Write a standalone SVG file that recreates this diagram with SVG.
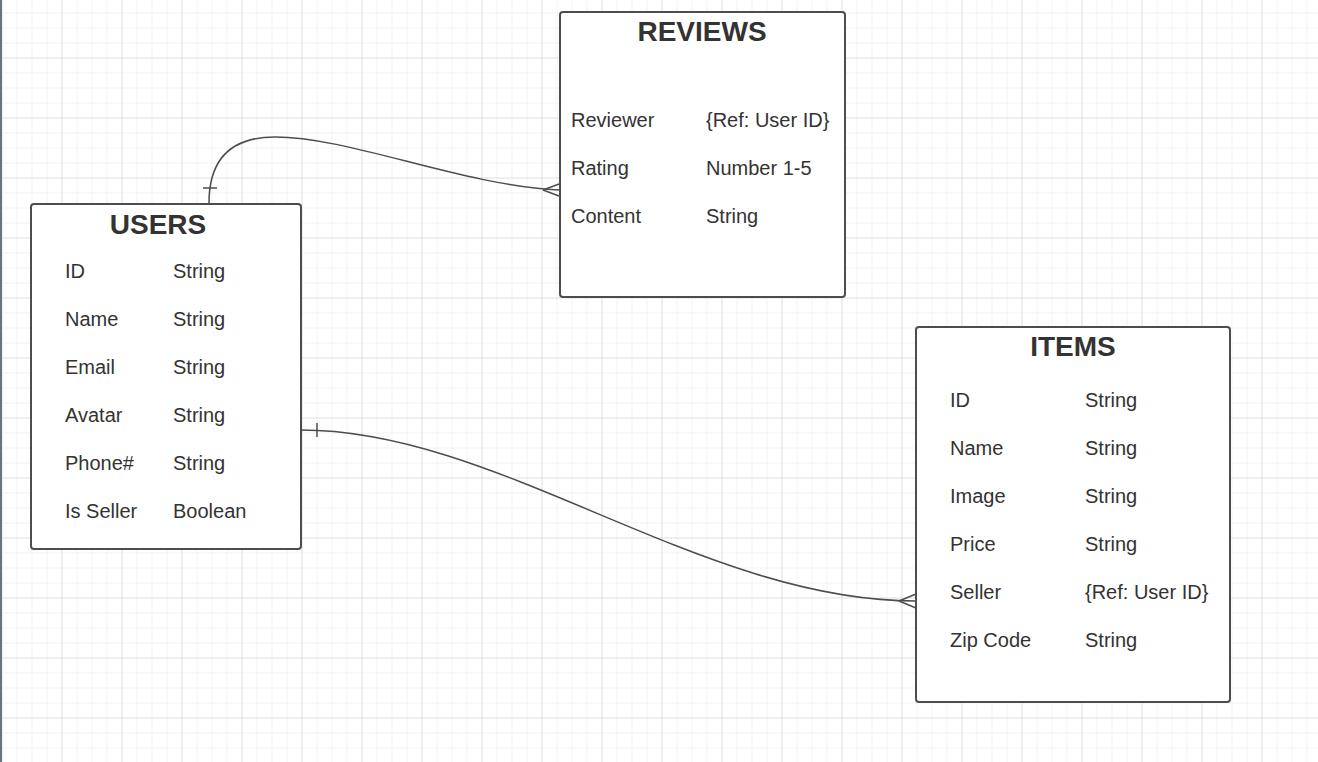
<svg xmlns="http://www.w3.org/2000/svg" width="1318" height="762" viewBox="0 0 1318 762">
<style>
.box{fill:#fff;stroke:#4d4d4d;stroke-width:2}
.title{font-family:"Liberation Sans",Arial,sans-serif;font-weight:bold;font-size:28px;fill:#333;text-anchor:middle}
.t{font-family:"Liberation Sans",Arial,sans-serif;font-size:20px;fill:#333}
.c{fill:none;stroke:#4d4d4d;stroke-width:1.5}
</style>
<defs>
<pattern id="minor" patternUnits="userSpaceOnUse" x="1.5" y="-2.5" width="15" height="15">
<path d="M0 0H15M0 0V15" fill="none" stroke="#e6e6e6" stroke-width="1"/>
</pattern>
<pattern id="major" patternUnits="userSpaceOnUse" x="1.5" y="-2.5" width="60" height="60">
<path d="M0 0H60M0 0V60" fill="none" stroke="#d2d2d2" stroke-width="1"/>
</pattern>
</defs>
<rect width="1318" height="762" fill="#fff"/>
<rect width="1318" height="762" fill="url(#minor)"/>
<rect width="1318" height="762" fill="url(#major)"/>
<rect x="0" y="0" width="2" height="762" fill="#6b7280"/>

<g id="connectors">
<path class="c" d="M209 203 C209 160 230 137 275 137 C350 137 460 185 559 190"/>
<path class="c" d="M203 188H217"/>
<path class="c" d="M543 190L559 184M543 190L559 196"/>
<path class="c" d="M301 430 C500 430 700 601 916 601"/>
<path class="c" d="M317 423V437"/>
<path class="c" d="M899 601L916 594M899 601L916 608"/>
</g>

<g id="reviews">
<rect class="box" x="560" y="12" width="285" height="285" rx="3"/>
<text class="title" x="702" y="41">REVIEWS</text>
<text class="t" x="571" y="127">Reviewer</text><text class="t" x="706" y="127">{Ref: User ID}</text>
<text class="t" x="571" y="175">Rating</text><text class="t" x="706" y="175">Number 1-5</text>
<text class="t" x="571" y="223">Content</text><text class="t" x="706" y="223">String</text>
</g>

<g id="users">
<rect class="box" x="31" y="204" width="270" height="345" rx="3"/>
<text class="title" x="158" y="234">USERS</text>
<text class="t" x="65" y="278">ID</text><text class="t" x="173" y="278">String</text>
<text class="t" x="65" y="326">Name</text><text class="t" x="173" y="326">String</text>
<text class="t" x="65" y="374">Email</text><text class="t" x="173" y="374">String</text>
<text class="t" x="65" y="422">Avatar</text><text class="t" x="173" y="422">String</text>
<text class="t" x="65" y="470">Phone#</text><text class="t" x="173" y="470">String</text>
<text class="t" x="65" y="518">Is Seller</text><text class="t" x="173" y="518">Boolean</text>
</g>

<g id="items">
<rect class="box" x="916" y="327" width="314" height="375" rx="3"/>
<text class="title" x="1073" y="356">ITEMS</text>
<text class="t" x="950" y="407">ID</text><text class="t" x="1085" y="407">String</text>
<text class="t" x="950" y="455">Name</text><text class="t" x="1085" y="455">String</text>
<text class="t" x="950" y="503">Image</text><text class="t" x="1085" y="503">String</text>
<text class="t" x="950" y="551">Price</text><text class="t" x="1085" y="551">String</text>
<text class="t" x="950" y="599">Seller</text><text class="t" x="1085" y="599">{Ref: User ID}</text>
<text class="t" x="950" y="647">Zip Code</text><text class="t" x="1085" y="647">String</text>
</g>
</svg>
